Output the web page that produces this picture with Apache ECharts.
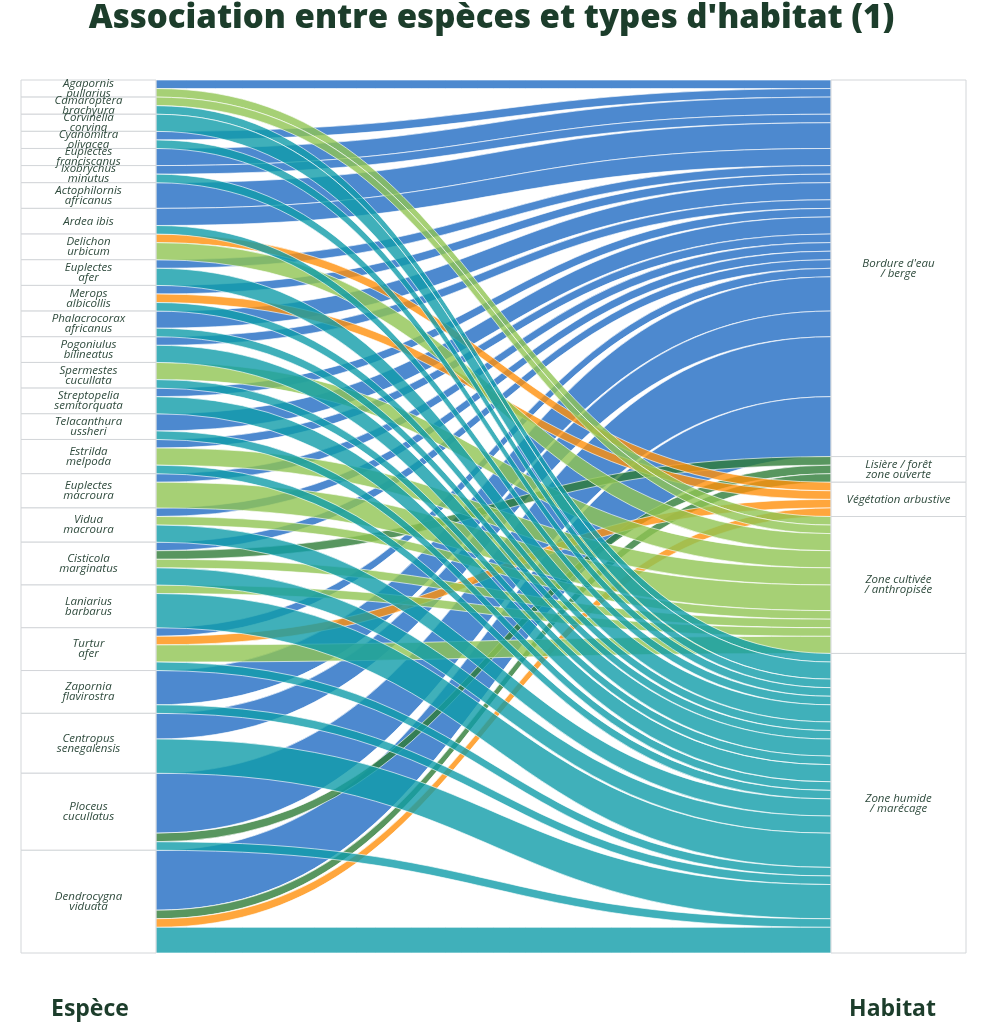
<!DOCTYPE html>
<html>
<head>
<meta charset="utf-8">
<script src="https://cdn.jsdelivr.net/npm/echarts@6/dist/echarts.min.js"></script>
<style>
    html, body { margin: 0; padding: 0; background: #fff; }
    #chart { width: 983px; height: 1024px; }
</style>
</head>
<body>
<div id="chart"></div>
<script>
// espèces (ordre d'affichage, de haut en bas)
const species = [
    'Agapornis pullarius', 'Camaroptera brachyura', 'Corvinella corvina', 'Cyanomitra olivacea',
    'Euplectes franciscanus', 'Ixobrychus minutus', 'Actophilornis africanus', 'Ardea ibis',
    'Delichon urbicum', 'Euplectes afer', 'Merops albicollis', 'Phalacrocorax africanus',
    'Pogoniulus bilineatus', 'Spermestes cucullata', 'Streptopelia semitorquata', 'Telacanthura ussheri',
    'Estrilda melpoda', 'Euplectes macroura', 'Vidua macroura', 'Cisticola marginatus',
    'Laniarius barbarus', 'Turtur afer', 'Zapornia flavirostra', 'Centropus senegalensis',
    'Ploceus cucullatus', 'Dendrocygna viduata'
]

// habitats
const habitats = [
    "Bordure d'eau / berge", 'Lisière / forêt zone ouverte', 'Végétation arbustive',
    'Zone cultivée / anthropisée', 'Zone humide / marécage'
]
const habitatLabels = [
    "Bordure d'eau\n/ berge", 'Lisière / forêt\nzone ouverte', 'Végétation arbustive',
    'Zone cultivée\n/ anthropisée', 'Zone humide\n/ marécage'
]
const habitatColors = ['#206cc3', '#2e7c37', '#ff900b', '#90c452', '#109ca9']

// nombre d'associations par espèce, un tableau par habitat
const bordure    = [1, 0, 0, 1, 2, 1, 3, 2, 0, 1, 1, 2, 1, 0, 1, 2, 1, 1, 1, 1, 0, 1, 4, 3, 7, 7]
const lisiere    = [0, 0, 0, 0, 0, 0, 0, 0, 0, 0, 0, 0, 0, 0, 0, 0, 0, 0, 0, 1, 0, 0, 0, 0, 1, 1]
const vegetation = [0, 0, 0, 0, 0, 0, 0, 0, 1, 0, 1, 0, 0, 0, 0, 0, 0, 0, 0, 0, 0, 1, 0, 0, 0, 1]
const cultivee   = [1, 1, 0, 0, 0, 0, 0, 0, 2, 0, 0, 0, 0, 2, 0, 0, 2, 3, 1, 1, 1, 2, 0, 0, 0, 0]
const humide     = [0, 1, 2, 1, 0, 1, 0, 1, 0, 2, 1, 1, 2, 1, 2, 1, 1, 0, 2, 2, 4, 1, 1, 4, 1, 3]

const valuesByHabitat = [bordure, lisiere, vegetation, cultivee, humide]

const textColor = '#1c3d2b'
const labelColor = '#2e4a3c'

// noeuds
const nodes = []
species.forEach(name => {
    const parts = name.split(' ')
    const sep = name === 'Ardea ibis' ? ' ' : '\n'
    nodes.push({ name: name, label: { formatter: parts[0] + sep + parts.slice(1).join(' ') } })
})
habitats.forEach((name, i) => {
    nodes.push({ name: name, label: { formatter: habitatLabels[i] } })
})

// liens (par habitat, pour que les derniers soient dessinés au-dessus)
const links = []
valuesByHabitat.forEach((vals, h) => {
    species.forEach((sp, i) => {
        if (vals[i] > 0) {
            links.push({
                source: sp,
                target: habitats[h],
                value: vals[i],
                lineStyle: { color: habitatColors[h] }
            })
        }
    })
})

const chart = echarts.init(document.getElementById('chart'))

const option = {
    backgroundColor: '#fff',
    animation: false,
    title: [
        {
            text: "Association entre espèces et types d'habitat (1)",
            left: 'center',
            top: -3,
            textStyle: { fontFamily: 'Open Sans', fontSize: 33, fontWeight: 800, color: textColor }
        },
        {
            text: 'Espèce',
            left: 46,
            top: 993,
            textStyle: { fontFamily: 'Open Sans', fontSize: 23, fontWeight: 'bold', color: textColor }
        },
        {
            text: 'Habitat',
            right: 42,
            top: 993,
            textStyle: { fontFamily: 'Open Sans', fontSize: 23, fontWeight: 'bold', color: textColor }
        }
    ],
    series: [{
        type: 'sankey',
        left: 21,
        right: 17,
        top: 80,
        bottom: 71,
        nodeWidth: 135,
        nodeGap: 0,
        layoutIterations: 0,
        draggable: false,
        emphasis: { disabled: true },
        data: nodes,
        links: links,
        itemStyle: {
            color: '#fff',
            borderColor: '#d3d6d9',
            borderWidth: 1
        },
        label: {
            show: true,
            position: 'inside',
            align: 'center',
            fontFamily: 'Open Sans',
            fontStyle: 'italic',
            fontSize: 11.5,
            lineHeight: 10,
            color: labelColor
        },
        lineStyle: {
            opacity: 0.8,
            curveness: 0.5,
            borderColor: '#fff',
            borderWidth: 0.8
        }
    }]
}

chart.setOption(option)
</script>
</body>
</html>
